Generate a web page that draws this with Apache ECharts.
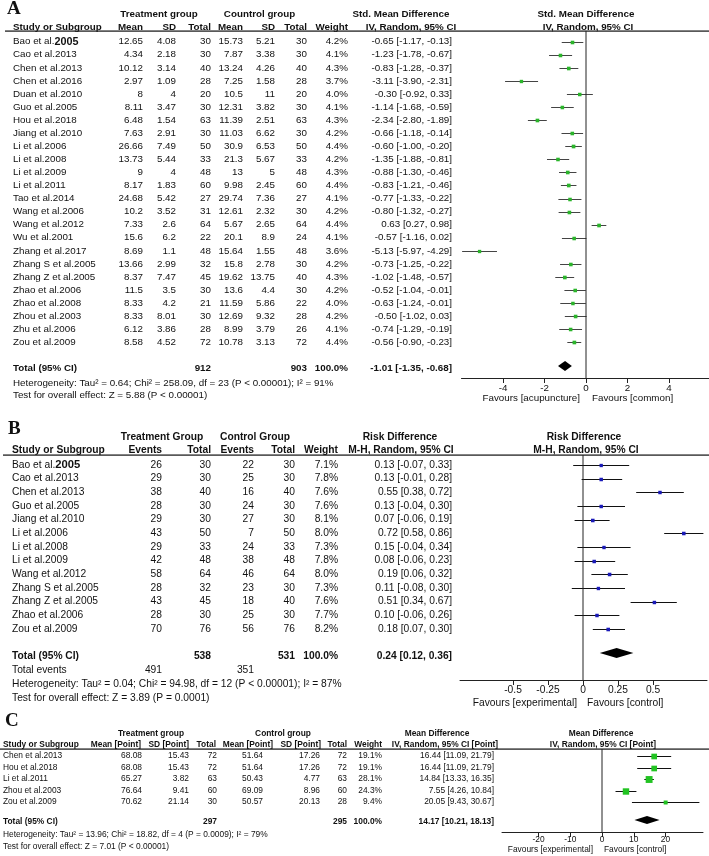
<!DOCTYPE html>
<html><head><meta charset="utf-8">
<script src="https://cdn.jsdelivr.net/npm/echarts@6/dist/echarts.min.js"></script>
<style>html,body{margin:0;padding:0;background:#fff}#c{width:709px;height:856px}</style>
</head><body><div id="c"></div>
<script>
// ================= DATA =================
// Panel A
const studiesA = ['Bao et al.2005','Cao et al.2013','Chen et al.2013','Chen et al.2016','Duan et al.2010','Guo et al.2005','Hou et al.2018','Jiang et al.2010','Li et al.2006','Li et al.2008','Li et al.2009','Li et al.2011','Tao et al.2014','Wang et al.2006','Wang et al.2012','Wu et al.2001','Zhang et al.2017','Zhang S et al.2005','Zhang Z et al.2005','Zhao et al.2006','Zhao et al.2008','Zhou et al.2003','Zhu et al.2006','Zou et al.2009'];
const meanTA = [12.65,4.34,10.12,2.97,8,8.11,6.48,7.63,26.66,13.73,9,8.17,24.68,10.2,7.33,15.6,8.69,13.66,8.37,11.5,8.33,8.33,6.12,8.58];
const sdTA   = [4.08,2.18,3.14,1.09,4,3.47,1.54,2.91,7.49,5.44,4,1.83,5.42,3.52,2.6,6.2,1.1,2.99,7.47,3.5,4.2,8.01,3.86,4.52];
const nTA    = [30,30,40,28,20,30,63,30,50,33,48,60,27,31,64,22,48,32,45,30,21,30,28,72];
const meanCA = [15.73,7.87,13.24,7.25,10.5,12.31,11.39,11.03,30.9,21.3,13,9.98,29.74,12.61,5.67,20.1,15.64,15.8,19.62,13.6,11.59,12.69,8.99,10.78];
const sdCA   = [5.21,3.38,4.26,1.58,11,3.82,2.51,6.62,6.53,5.67,5,2.45,7.36,2.32,2.65,8.9,1.55,2.78,13.75,4.4,5.86,9.32,3.79,3.13];
const nCA    = [30,30,40,28,20,30,63,30,50,33,48,60,27,30,64,24,48,30,40,30,22,28,26,72];
const weightA= [4.2,4.1,4.3,3.7,4.0,4.1,4.3,4.2,4.4,4.2,4.3,4.4,4.1,4.2,4.4,4.1,3.6,4.2,4.3,4.2,4.0,4.2,4.1,4.4];
const estA   = [-0.65,-1.23,-0.83,-3.11,-0.30,-1.14,-2.34,-0.66,-0.60,-1.35,-0.88,-0.83,-0.77,-0.80,0.63,-0.57,-5.13,-0.73,-1.02,-0.52,-0.63,-0.50,-0.74,-0.56];
const loA    = [-1.17,-1.78,-1.28,-3.90,-0.92,-1.68,-2.80,-1.18,-1.00,-1.88,-1.30,-1.21,-1.33,-1.32,0.27,-1.16,-5.97,-1.25,-1.48,-1.04,-1.24,-1.02,-1.29,-0.90];
const hiA    = [-0.13,-0.67,-0.37,-2.31,0.33,-0.59,-1.89,-0.14,-0.20,-0.81,-0.46,-0.46,-0.22,-0.27,0.98,0.02,-4.29,-0.22,-0.57,-0.01,-0.01,0.03,-0.19,-0.23];
const totalA = {nT:912, nC:903, w:'100.0%', est:-1.01, lo:-1.35, hi:-0.68};
const hetA = 'Heterogeneity: Tau² = 0.64; Chi² = 258.09, df = 23 (P < 0.00001); I² = 91%';
const testA = 'Test for overall effect: Z = 5.88 (P < 0.00001)';
const ticksA = [-4,-2,0,2,4];

// Panel B
const studiesB = ['Bao et al.2005','Cao et al.2013','Chen et al.2013','Guo et al.2005','Jiang et al.2010','Li et al.2006','Li et al.2008','Li et al.2009','Wang et al.2012','Zhang S et al.2005','Zhang Z et al.2005','Zhao et al.2006','Zou et al.2009'];
const evTB = [26,29,38,28,29,43,29,42,58,28,43,28,70];
const nTB  = [30,30,40,30,30,50,33,48,64,32,45,30,76];
const evCB = [22,25,16,24,27,7,24,38,46,23,18,25,56];
const nCB  = [30,30,40,30,30,50,33,48,64,30,40,30,76];
const weightB = [7.1,7.8,7.6,7.6,8.1,8.0,7.3,7.8,8.0,7.3,7.6,7.7,8.2];
const estB = [0.13,0.13,0.55,0.13,0.07,0.72,0.15,0.08,0.19,0.11,0.51,0.10,0.18];
const loB  = [-0.07,-0.01,0.38,-0.04,-0.06,0.58,-0.04,-0.06,0.06,-0.08,0.34,-0.06,0.07];
const hiB  = [0.33,0.28,0.72,0.30,0.19,0.86,0.34,0.23,0.32,0.30,0.67,0.26,0.30];
const totalB = {nT:538, nC:531, w:'100.0%', est:0.24, lo:0.12, hi:0.36, evT:491, evC:351};
const hetB = 'Heterogeneity: Tau² = 0.04; Chi² = 94.98, df = 12 (P < 0.00001); I² = 87%';
const testB = 'Test for overall effect: Z = 3.89 (P = 0.0001)';
const ticksB = [-0.5,-0.25,0,0.25,0.5];

// Panel C
const studiesC = ['Chen et al.2013','Hou et al.2018','Li et al.2011','Zhou et al.2003','Zou et al.2009'];
const meanTC = ['68.08','68.08','65.27','76.64','70.62'];
const sdTC   = ['15.43','15.43','3.82','9.41','21.14'];
const nTC    = [72,72,63,60,30];
const meanCC = ['51.64','51.64','50.43','69.09','50.57'];
const sdCC   = ['17.26','17.26','4.77','8.96','20.13'];
const nCC    = [72,72,63,60,28];
const weightC = [19.1,19.1,28.1,24.3,9.4];
const estC = [16.44,16.44,14.84,7.55,20.05];
const loC  = [11.09,11.09,13.33,4.26,9.43];
const hiC  = [21.79,21.79,16.35,10.84,30.67];
const totalC = {nT:297, nC:295, w:'100.0%', est:14.17, lo:10.21, hi:18.13};
const hetC = 'Heterogeneity: Tau² = 13.96; Chi² = 18.82, df = 4 (P = 0.0009); I² = 79%';
const testC = 'Test for overall effect: Z = 7.01 (P < 0.00001)';
const ticksC = [-20,-10,0,10,20];

// ================= LAYOUT / STYLE =================
const FONT = '"Liberation Sans", Arial, Helvetica, sans-serif';
const SERIF = '"Liberation Serif", "Times New Roman", serif';
const INK = '#111';
const P = {
  A:{top:31, bottom:378, y0:41.7, rh:13.07, left:461.5, right:709, zero:586, scale:20.75, fs:9.8, lineStart:5,
     mk:'#2bb52b', ci:'#444', k:1.75, dia:5, tickLen:5, lblMargin:5},
  B:{top:455, bottom:680, y0:465, rh:13.65, left:460, right:707, zero:583, scale:140, fs:10.25, lineStart:3,
     mk:'#1a1ab8', ci:'#111', k:1.25, dia:5, tickLen:5, lblMargin:5},
  C:{top:749, bottom:832, y0:756, rh:11.53, left:502, right:703, zero:602, scale:3.175, fs:8.4, lineStart:0,
     mk:'#22c322', ci:'#111', k:1.3, dia:4, tickLen:5, lblMargin:4}
};
function rowOf(p, y){ return (y - p.y0)/p.rh; }
for (const key in P){ const p=P[key]; p.yMin=rowOf(p,p.top); p.yMax=rowOf(p,p.bottom); p.xMin=(p.left-p.zero)/p.scale; p.xMax=(p.right-p.zero)/p.scale; }

const f2 = v => v.toFixed(2);
const ciStr = (e,l,h) => `${f2(e)} [${f2(l)}, ${f2(h)}]`;
const RICH = {'Bao et al.2005':'{n|Bao et al.}{y|2005}'};

function T(list, x, row, text, align, bold, size, family){
  list.push({x, row, text:String(text), align:align||'right', bold:!!bold, size, family:family||FONT});
}

// ---- Panel A text ----
const tA=[]; { const p=P.A, fs=p.fs;
  T(tA,7,rowOf(p,9),'A','left',true,19,SERIF);
  T(tA,159,rowOf(p,14),'Treatment group','center',true,fs);
  T(tA,259.5,rowOf(p,14),'Countrol group','center',true,fs);
  T(tA,401,rowOf(p,14),'Std. Mean Difference','center',true,fs);
  T(tA,586,rowOf(p,14),'Std. Mean Difference','center',true,fs);
  const hr=rowOf(p,27);
  T(tA,13,hr,'Study or Subgroup','left',true,fs);
  [['Mean',143],['SD',176],['Total',211],['Mean',243],['SD',275],['Total',307],['Weight',348]].forEach(([t,x])=>T(tA,x,hr,t,'right',true,fs));
  T(tA,411,hr,'IV, Random, 95% CI','center',true,fs);
  T(tA,588,hr,'IV, Random, 95% CI','center',true,fs);
  studiesA.forEach((s,i)=>{
    T(tA,13,i,s,'left',false,fs);
    T(tA,143,i,meanTA[i]); T(tA,176,i,sdTA[i]); T(tA,211,i,nTA[i]);
    T(tA,243,i,meanCA[i]); T(tA,275,i,sdCA[i]); T(tA,307,i,nCA[i]);
    T(tA,348,i,weightA[i].toFixed(1)+'%'); T(tA,452,i,ciStr(estA[i],loA[i],hiA[i]));
  });
  const tr=rowOf(p,368);
  T(tA,13,tr,'Total (95% CI)','left',true,fs);
  T(tA,211,tr,totalA.nT,'right',true,fs); T(tA,307,tr,totalA.nC,'right',true,fs);
  T(tA,348,tr,totalA.w,'right',true,fs); T(tA,452,tr,ciStr(totalA.est,totalA.lo,totalA.hi),'right',true,fs);
  T(tA,13,rowOf(p,383),hetA,'left',false,fs);
  T(tA,13,rowOf(p,395),testA,'left',false,fs);
  T(tA,580,rowOf(p,398),'Favours [acupuncture]','right',false,fs);
  T(tA,592,rowOf(p,398),'Favours [common]','left',false,fs);
}
// ---- Panel B text ----
const tB=[]; { const p=P.B, fs=p.fs;
  T(tB,8,rowOf(p,429),'B','left',true,19,SERIF);
  T(tB,162,rowOf(p,437),'Treatment Group','center',true,fs);
  T(tB,255,rowOf(p,437),'Control Group','center',true,fs);
  T(tB,400,rowOf(p,437),'Risk Difference','center',true,fs);
  T(tB,584,rowOf(p,437),'Risk Difference','center',true,fs);
  const hr=rowOf(p,450);
  T(tB,12,hr,'Study or Subgroup','left',true,fs);
  [['Events',162],['Total',211],['Events',254],['Total',295],['Weight',338]].forEach(([t,x])=>T(tB,x,hr,t,'right',true,fs));
  T(tB,401,hr,'M-H, Random, 95% CI','center',true,fs);
  T(tB,586,hr,'M-H, Random, 95% CI','center',true,fs);
  studiesB.forEach((s,i)=>{
    T(tB,12,i,s,'left',false,fs);
    T(tB,162,i,evTB[i]); T(tB,211,i,nTB[i]); T(tB,254,i,evCB[i]); T(tB,295,i,nCB[i]);
    T(tB,338,i,weightB[i].toFixed(1)+'%'); T(tB,452,i,ciStr(estB[i],loB[i],hiB[i]));
  });
  const tr=rowOf(p,656);
  T(tB,12,tr,'Total (95% CI)','left',true,fs);
  T(tB,211,tr,totalB.nT,'right',true,fs); T(tB,295,tr,totalB.nC,'right',true,fs);
  T(tB,338,tr,totalB.w,'right',true,fs); T(tB,452,tr,ciStr(totalB.est,totalB.lo,totalB.hi),'right',true,fs);
  const er=rowOf(p,670);
  T(tB,12,er,'Total events','left',false,fs); T(tB,162,er,totalB.evT); T(tB,254,er,totalB.evC);
  T(tB,12,rowOf(p,684),hetB,'left',false,fs);
  T(tB,12,rowOf(p,698),testB,'left',false,fs);
  T(tB,577,rowOf(p,703),'Favours [experimental]','right',false,fs);
  T(tB,587,rowOf(p,703),'Favours [control]','left',false,fs);
}
// ---- Panel C text ----
const tC=[]; { const p=P.C, fs=p.fs;
  T(tC,5,rowOf(p,721.5),'C','left',true,19,SERIF);
  T(tC,151,rowOf(p,734),'Treatment group','center',true,fs);
  T(tC,283,rowOf(p,734),'Control group','center',true,fs);
  T(tC,437,rowOf(p,734),'Mean Difference','center',true,fs);
  T(tC,601,rowOf(p,734),'Mean Difference','center',true,fs);
  const hr=rowOf(p,745);
  T(tC,3,hr,'Study or Subgroup','left',true,fs);
  [['Mean [Point]',141],['SD [Point]',189],['Total',216],['Mean [Point]',273],['SD [Point]',321],['Total',347],['Weight',382]].forEach(([t,x])=>T(tC,x,hr,t,'right',true,fs));
  T(tC,445,hr,'IV, Random, 95% CI [Point]','center',true,fs);
  T(tC,603,hr,'IV, Random, 95% CI [Point]','center',true,fs);
  studiesC.forEach((s,i)=>{
    T(tC,3,i,s,'left',false,fs);
    T(tC,142,i,meanTC[i]); T(tC,189,i,sdTC[i]); T(tC,217,i,nTC[i]);
    T(tC,263,i,meanCC[i]); T(tC,320,i,sdCC[i]); T(tC,347,i,nCC[i]);
    T(tC,382,i,weightC[i].toFixed(1)+'%'); T(tC,494,i,ciStr(estC[i],loC[i],hiC[i]));
  });
  const tr=rowOf(p,822);
  T(tC,3,tr,'Total (95% CI)','left',true,fs);
  T(tC,217,tr,totalC.nT,'right',true,fs); T(tC,347,tr,totalC.nC,'right',true,fs);
  T(tC,382,tr,totalC.w,'right',true,fs); T(tC,494,tr,ciStr(totalC.est,totalC.lo,totalC.hi),'right',true,fs);
  T(tC,3,rowOf(p,835),hetC,'left',false,fs);
  T(tC,3,rowOf(p,847),testC,'left',false,fs);
  T(tC,593,rowOf(p,850),'Favours [experimental]','right',false,fs);
  T(tC,604,rowOf(p,850),'Favours [control]','left',false,fs);
}

// ================= OPTION =================
const grids=[], xAxes=[], yAxes=[], series=[];
const panels=[
  {p:P.A, texts:tA, est:estA, lo:loA, hi:hiA, w:weightA, tot:totalA, totRow:rowOf(P.A,366), ticks:ticksA},
  {p:P.B, texts:tB, est:estB, lo:loB, hi:hiB, w:weightB, tot:totalB, totRow:rowOf(P.B,653), ticks:ticksB},
  {p:P.C, texts:tC, est:estC, lo:loC, hi:hiC, w:weightC, tot:totalC, totRow:rowOf(P.C,820), ticks:ticksC}
];
panels.forEach((pn, k)=>{
  const p=pn.p, gi=k*2, gp=k*2+1;
  grids.push({left:0, width:709, top:p.top, height:p.bottom-p.top, outerBoundsMode:'none'});
  xAxes.push({gridIndex:gi, type:'value', min:0, max:709, show:false});
  yAxes.push({gridIndex:gi, type:'value', inverse:true, min:p.yMin, max:p.yMax, show:false});
  grids.push({left:p.left, width:p.right-p.left, top:p.top, height:p.bottom-p.top, outerBoundsMode:'none'});
  xAxes.push({gridIndex:gp, type:'value', min:p.xMin, max:p.xMax, position:'bottom',
    axisLine:{show:true, onZero:false, lineStyle:{color:'#222', width:1}},
    axisTick:{show:true, length:p.tickLen, customValues:pn.ticks, lineStyle:{color:'#222'}},
    axisLabel:{show:true, customValues:pn.ticks, margin:p.lblMargin, color:INK, fontSize:p.fs, fontFamily:FONT},
    splitLine:{show:false}});
  yAxes.push({gridIndex:gp, type:'value', inverse:true, min:p.yMin, max:p.yMax, show:false});

  series.push({type:'line', xAxisIndex:gi, yAxisIndex:gi, data:[[p.lineStart,p.yMin],[709,p.yMin]],
    symbol:'none', lineStyle:{color:'#222', width:1.3}, silent:true, animation:false});
  series.push({type:'line', xAxisIndex:gp, yAxisIndex:gp, data:[[0,p.yMin],[0,p.yMax]],
    symbol:'none', lineStyle:{color:'#222', width:1}, silent:true, animation:false});

  const items=pn.texts;
  series.push({type:'custom', xAxisIndex:gi, yAxisIndex:gi, silent:true, animation:false, clip:false,
    encode:{x:0,y:1}, data:items.map(it=>[it.x,it.row]),
    renderItem:(params, api)=>{
      const it=items[params.dataIndex];
      const c=api.coord([api.value(0), api.value(1)]);
      const size=it.size||p.fs;
      const font=(it.bold?'bold ':'')+size+'px '+it.family;
      const style={text:it.text, x:0, y:0, fill:INK, font, align:it.align, verticalAlign:'middle'};
      if (RICH[it.text]) {
        style.text=RICH[it.text];
        style.rich={n:{font:size+'px '+FONT, fill:INK}, y:{font:'bold '+(size+1)+'px '+FONT, fill:INK}};
      }
      return {type:'text', x:c[0], y:c[1], style};
    }});

  series.push({type:'custom', xAxisIndex:gp, yAxisIndex:gp, silent:true, animation:false, clip:false,
    encode:{x:0,y:3}, data:pn.est.map((e,i)=>[e, pn.lo[i], pn.hi[i], i, pn.w[i]]),
    renderItem:(params, api)=>{
      const e=api.value(0), l=api.value(1), h=api.value(2), r=api.value(3), w=api.value(4);
      const a=api.coord([l,r]), b=api.coord([h,r]), c=api.coord([e,r]);
      const y=Math.round(a[1])+0.5, s=p.k*Math.sqrt(w);
      return {type:'group', children:[
        {type:'line', shape:{x1:a[0], y1:y, x2:b[0], y2:y}, style:{stroke:p.ci, lineWidth:1}},
        {type:'rect', shape:{x:c[0]-s/2, y:y-s/2, width:s, height:s}, style:{fill:p.mk}}
      ]};
    }});
  series.push({type:'custom', xAxisIndex:gp, yAxisIndex:gp, silent:true, animation:false, clip:false,
    encode:{x:0,y:3}, data:[[pn.tot.est, pn.tot.lo, pn.tot.hi, pn.totRow]],
    renderItem:(params, api)=>{
      const e=api.value(0), l=api.value(1), h=api.value(2), r=api.value(3);
      const a=api.coord([l,r]), b=api.coord([h,r]), c=api.coord([e,r]);
      return {type:'polygon', shape:{points:[[a[0],a[1]],[c[0],c[1]-p.dia],[b[0],b[1]],[c[0],c[1]+p.dia]]}, style:{fill:'#000'}};
    }});
});

const chart=echarts.init(document.getElementById('c'), null, {renderer:'canvas', width:709, height:856});
chart.setOption({backgroundColor:'#fff', animation:false, grid:grids, xAxis:xAxes, yAxis:yAxes, series});
</script></body></html>
